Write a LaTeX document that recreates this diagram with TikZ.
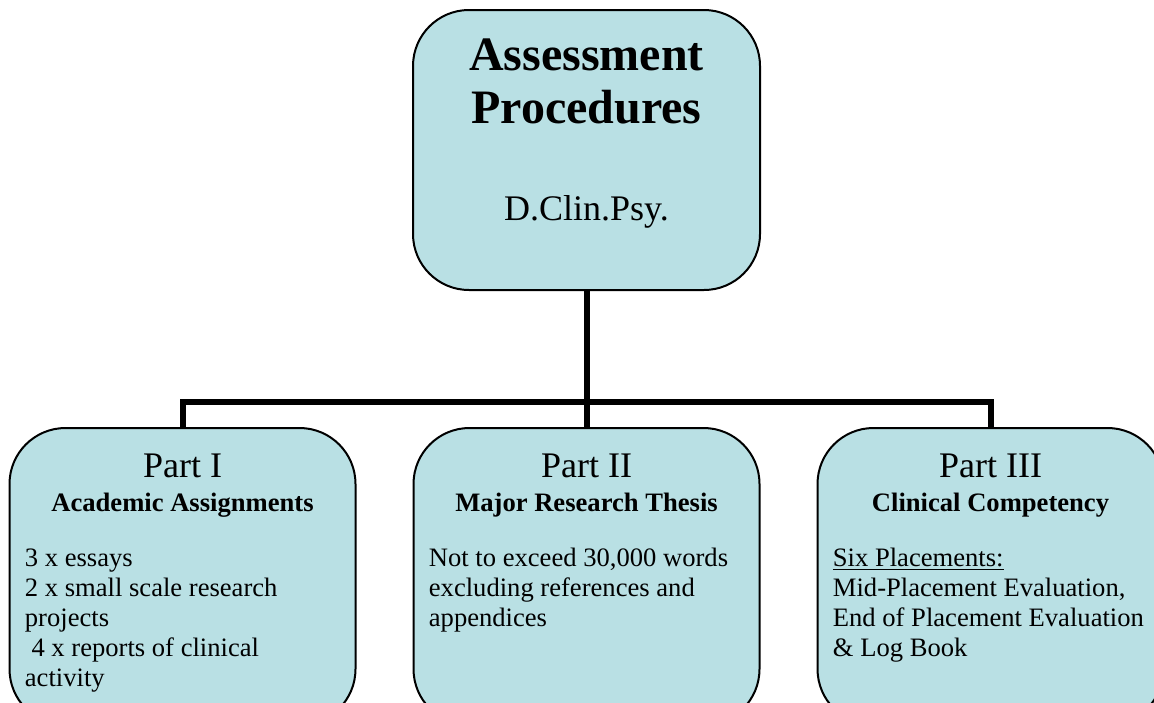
\documentclass[tikz,border=0pt]{standalone}
\usepackage{fontspec}
\setmainfont{Liberation Serif}
\usetikzlibrary{positioning}
\definecolor{boxfill}{RGB}{185,224,228}

\begin{document}
\begin{tikzpicture}[x=0.5pt,y=-0.5pt,node distance=29pt,
                    main box/.style={rectangle,draw,fill=boxfill,line width=1pt,
                      rounded corners=28pt,inner sep=0pt,outer sep=0pt},
                    part box/.style={main box,minimum width=173pt,minimum height=148.5pt},
                    part title/.style={anchor=base,inner sep=0pt,font=\fontsize{18}{20}\selectfont},
                    part sub/.style={anchor=base,inner sep=0pt,font=\bfseries\fontsize{13.3}{15}\selectfont},
                    part text/.style={anchor=base west,align=left,inner sep=0pt,
                      font=\fontsize{13.3}{15}\selectfont},
                    link/.style={line width=3pt}
                    ]
  \useasboundingbox (0,0) rectangle (1154,702);
  \clip (0,0) rectangle (1154,702);

  % boxes
  \node[main box,minimum width=173.5pt,minimum height=140pt] (top) at (586.5,150) {};
  \node[part box, below=69pt of top] (p2) {};
  \node[part box, left=of p2] (p1) {};
  \node[part box, right=of p2] (p3) {};

  % top box text (base = last line)
  \node[anchor=base,inner sep=0pt,align=center,font=\bfseries\fontsize{24}{26.5}\selectfont]
    (ttl) at ([yshift=-56.5pt]top.north) {Assessment\\Procedures};
  \node[anchor=base,inner sep=0pt,font=\fontsize{18}{20}\selectfont]
    (deg) at ([yshift=-105pt]top.north) {D.Clin.Psy.};

  % parts
  \node[part title] (p1t) at ([yshift=-24.5pt]p1.north) {Part I};
  \node[part sub] (p1s) at ([yshift=-41.5pt]p1.north) {Academic Assignments};
  \node[part text] (p1b) at ([xshift=7.5pt,yshift=-129pt]p1.north west)
    {3 x essays\\2 x small scale research\\projects\\~4 x reports of clinical\\activity};

  \node[part title] (p2t) at ([yshift=-24.5pt]p2.north) {Part II};
  \node[part sub] (p2s) at ([yshift=-41.5pt]p2.north) {Major Research Thesis};
  \node[part text] (p2b) at ([xshift=7.5pt,yshift=-99pt]p2.north west)
    {Not to exceed 30,000 words\\excluding references and\\appendices};

  \node[part title] (p3t) at ([yshift=-24.5pt]p3.north) {Part III};
  \node[part sub] (p3s) at ([yshift=-41.5pt]p3.north) {Clinical Competency};
  \node[part text] (p3b) at ([xshift=7.5pt,yshift=-114pt]p3.north west)
    {\underline{Six Placements:}\\Mid-Placement Evaluation,\\End of Placement Evaluation\\\& Log Book};

  % connectors
  \coordinate (bar) at (586.5,402);
  \draw[link] (top) -- (p2);
  \draw[link] (p1.north) |- (bar) -| (p3.north);
\end{tikzpicture}
\end{document}
